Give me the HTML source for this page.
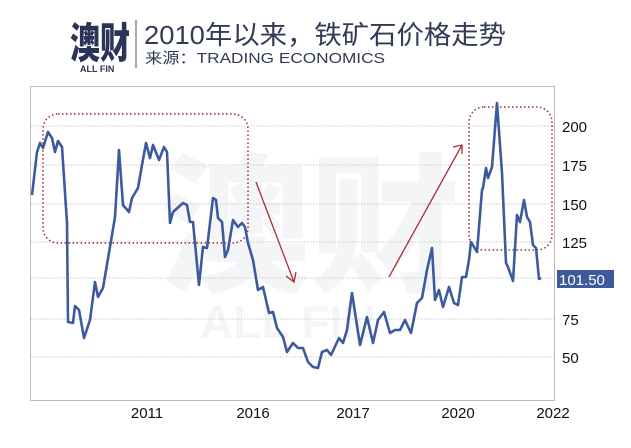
<!DOCTYPE html>
<html><head><meta charset="utf-8"><style>
html,body{margin:0;padding:0;background:#fff;width:631px;height:448px;overflow:hidden}
</style></head><body>
<svg width="631" height="448" xmlns="http://www.w3.org/2000/svg" style="position:absolute;left:0;top:0">
<text x="70" y="58" font-family="'Noto Sans CJK SC',sans-serif" font-weight="900" font-size="42" fill="#2d3358" textLength="60" lengthAdjust="spacingAndGlyphs">澳财</text>
<text x="80" y="72" font-family="'Liberation Sans',sans-serif" font-weight="bold" font-size="9" fill="#2d3358">ALL FIN</text>
<line x1="136" y1="20" x2="136" y2="68" stroke="#555" stroke-width="1"/>
<text x="144" y="44" font-family="'Liberation Sans','Noto Sans CJK SC',sans-serif" font-size="26" fill="#333a55" textLength="362" lengthAdjust="spacingAndGlyphs">2010年以来，铁矿石价格走势</text>
<text x="145" y="63" font-family="'Liberation Sans','Noto Sans CJK SC',sans-serif" font-size="15" fill="#333a55" textLength="240" lengthAdjust="spacingAndGlyphs">来源：TRADING ECONOMICS</text>
<text x="160" y="280" font-family="'Noto Sans CJK SC',sans-serif" font-weight="900" font-size="150" fill="#f4f5f7">澳财</text>
<text x="200" y="338" font-family="'Liberation Sans',sans-serif" font-weight="bold" font-size="46" fill="#f4f5f7">ALL FIN</text>
<rect x="30.5" y="86.5" width="524" height="314" fill="none" stroke="#bbb" stroke-width="1"/>
<g stroke="#c8c8c8" stroke-dasharray="1.5,1.5" stroke-width="1">
<line x1="31" x2="554" y1="126" y2="126"/><line x1="31" x2="554" y1="165" y2="165"/>
<line x1="31" x2="554" y1="204" y2="204"/><line x1="31" x2="554" y1="242" y2="242"/>
<line x1="31" x2="554" y1="278" y2="278"/><line x1="31" x2="554" y1="319" y2="319"/>
<line x1="31" x2="554" y1="357" y2="357"/></g>
<g font-family="'Liberation Sans',sans-serif" font-size="15" fill="#111">
<text x="562" y="132">200</text><text x="562" y="171">175</text><text x="562" y="210">150</text>
<text x="562" y="248">125</text><text x="562" y="325">75</text><text x="562" y="363">50</text>
<text x="147" y="418" text-anchor="middle">2011</text><text x="253" y="418" text-anchor="middle">2016</text>
<text x="353" y="418" text-anchor="middle">2017</text><text x="458" y="418" text-anchor="middle">2020</text>
<text x="553" y="418" text-anchor="middle">2022</text></g>
<rect x="557" y="270" width="57" height="18" fill="#3d5a9a"/>
<text x="559" y="285" font-family="'Liberation Sans',sans-serif" font-size="15" fill="#fff">101.50</text>
<g fill="none" stroke="#9a2b35" stroke-width="1.5" stroke-dasharray="1.5,2.5">
<rect x="43" y="114" width="205" height="129" rx="15"/>
<rect x="469" y="107" width="83" height="143" rx="15"/></g>
<g stroke="#a83038" stroke-width="1.3" fill="none">
<line x1="256" y1="182" x2="294" y2="282"/><polyline points="286,276 294,282 296,272"/>
<line x1="389" y1="277" x2="462" y2="145"/><polyline points="453,147 462,145 462,154"/></g>
<polyline fill="none" stroke="#3d5a9e" stroke-width="2.6" stroke-linejoin="round" points="32,195 37,152 40,143 43,148 48,132 52,138 55,152 58,141 62,147 67,223 68,322 73,323 75,306 79,310 84,338 90,320 95,282 98,297 103,288 112,235 115,217 119,150 123,205 129,212 132,198 138,188 142,165 146,143 150,158 153,145 159,160 164,147 167,152 170,223 173,212 183,203 187,205 190,222 193,222 199,285 203,247 207,248 213,198 216,200 218,218 222,222 225,257 228,250 233,220 238,227 242,223 245,227 248,243 253,260 258,290 263,287 269,313 273,312 277,328 283,337 287,352 293,343 298,348 303,348 308,362 313,367 318,368 322,352 327,350 331,355 339,338 343,343 347,330 352,293 360,345 367,317 373,343 378,320 384,312 390,333 395,330 400,330 405,320 411,333 417,303 422,298 427,270 432,248 435,300 439,290 443,307 449,287 454,303 458,305 462,277 466,277 469,260 471,242 477,252 482,190 483,188 486,168 488,178 492,167 497,103 502,173 506,263 508,267 513,281 517,215 520,222 524,200 527,217 530,222 533,245 536,248 539,279 541,278"/>
</svg>
</body></html>
